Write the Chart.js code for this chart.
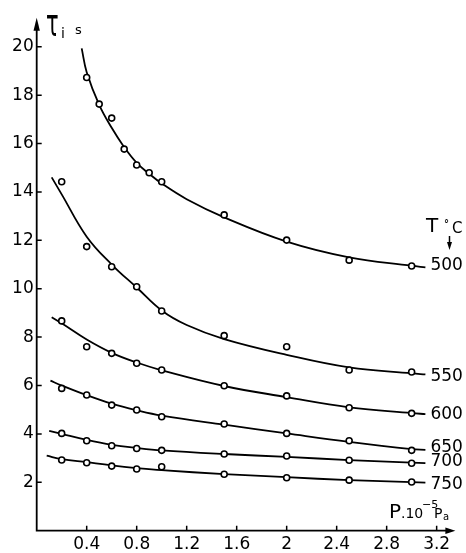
<!DOCTYPE html>
<html><head><meta charset="utf-8">
<script src="https://cdn.jsdelivr.net/npm/chart.js@4/dist/chart.umd.min.js"></script>
<style>html,body{margin:0;padding:0;background:#fff;}canvas{display:block;}</style>
</head><body>
<canvas id="c" width="466" height="553"></canvas>
<script>
// ---- data ----
const temperatures = ['500', '550', '600', '650', '700', '750'];
const xTicks = [0.4, 0.8, 1.2, 1.6, 2, 2.4, 2.8, 3.2];
const yTicks = [2, 4, 6, 8, 10, 12, 14, 16, 18, 20];

// measured points
const pressure500 = [0.4, 0.5, 0.6, 0.7, 0.8, 0.9, 1.0, 1.5, 2.0, 2.5, 3.0];
const tau500 = [18.73, 17.63, 17.05, 15.77, 15.11, 14.79, 14.42, 13.05, 12.01, 11.18, 10.94];
const pressureOther = [0.2, 0.4, 0.6, 0.8, 1.0, 1.5, 2.0, 2.5, 3.0];
const tau550 = [14.42, 11.74, 10.91, 10.08, 9.08, 8.06, 7.60, 6.64, 6.56];
const tau600 = [8.67, 7.60, 7.33, 6.92, 6.64, 5.99, 5.57, 5.08, 4.85];
const tau650 = [5.88, 5.61, 5.19, 4.99, 4.71, 4.41, 4.02, 3.72, 3.32];
const tau700 = [4.02, 3.72, 3.51, 3.40, 3.32, 3.17, 3.09, 2.91, 2.79];
const tau750 = [2.92, 2.81, 2.67, 2.55, 2.64, 2.33, 2.19, 2.09, 2.01];

// fitted curves
const fitP500 = [0.36, 0.4, 0.5, 0.6, 0.7, 0.8, 0.9, 1.0, 1.2, 1.5, 2.0, 2.5, 3.0, 3.11];
const fit500 = [19.93, 18.95, 17.6, 16.65, 15.85, 15.2, 14.75, 14.35, 13.7, 12.95, 11.95, 11.3, 10.95, 10.88];
const fitP550 = [0.12, 0.2, 0.4, 0.6, 0.8, 1.0, 1.2, 1.5, 2.0, 2.5, 3.0, 3.11];
const fit550 = [14.6, 13.9, 12.15, 11.0, 10.05, 9.1, 8.5, 7.92, 7.27, 6.75, 6.5, 6.46];
const fitP600 = [0.12, 0.2, 0.4, 0.6, 0.8, 1.0, 1.5, 2.0, 2.5, 3.0, 3.11];
const fit600 = [8.82, 8.57, 7.9, 7.35, 6.95, 6.63, 5.98, 5.52, 5.1, 4.86, 4.82];
const fitP650 = [0.11, 0.2, 0.4, 0.6, 0.8, 1.0, 1.5, 2.0, 2.5, 3.0, 3.11];
const fit650 = [6.2, 6.0, 5.6, 5.25, 4.98, 4.76, 4.38, 4.02, 3.67, 3.37, 3.34];
const fitP700 = [0.1, 0.2, 0.4, 0.6, 0.8, 1.0, 1.5, 2.0, 2.5, 3.0, 3.11];
const fit700 = [4.13, 4.0, 3.75, 3.55, 3.42, 3.32, 3.17, 3.05, 2.92, 2.81, 2.79];
const fitP750 = [0.08, 0.2, 0.4, 0.6, 0.8, 1.0, 1.5, 2.0, 2.5, 3.0, 3.11];
const fit750 = [3.1, 2.96, 2.83, 2.7, 2.59, 2.5, 2.34, 2.21, 2.09, 2.01, 1.99];

// curve-end label anchors (data units)
const labelX = 3.15;
const labelY = [10.95, 6.35, 4.78, 3.42, 2.84, 1.91];

// ---- build datasets ----
const pts = (xs, ys) => xs.map((x, i) => ({ x: x, y: ys[i] }));
const measured = [
  pts(pressure500, tau500), pts(pressureOther, tau550), pts(pressureOther, tau600),
  pts(pressureOther, tau650), pts(pressureOther, tau700), pts(pressureOther, tau750)
];
const fits = [
  pts(fitP500, fit500), pts(fitP550, fit550), pts(fitP600, fit600),
  pts(fitP650, fit650), pts(fitP700, fit700), pts(fitP750, fit750)
];
const datasets = [];
fits.forEach((d, i) => datasets.push({
  label: 'fit ' + temperatures[i], data: d, showLine: true, pointRadius: 0,
  borderColor: '#000', borderWidth: 1.8, tension: 0.4, order: 2
}));
measured.forEach((d, i) => datasets.push({
  label: temperatures[i] + ' °C', data: d, showLine: false, pointRadius: 3,
  pointBorderWidth: 1.6, pointBorderColor: '#000', pointBackgroundColor: '#fff', order: 1
}));

const FONT = '"DejaVu Sans", sans-serif';

const decor = {
  id: 'decor',
  afterDraw(chart) {
    const { ctx, chartArea: a, scales: { x, y } } = chart;
    ctx.save();
    ctx.strokeStyle = '#000';
    ctx.fillStyle = '#000';
    ctx.lineWidth = 1.8;
    // axes
    ctx.beginPath();
    ctx.moveTo(a.left, a.top + 6);
    ctx.lineTo(a.left, a.bottom);
    ctx.lineTo(a.right - 5, a.bottom);
    ctx.stroke();
    // y arrow
    ctx.beginPath();
    ctx.moveTo(a.left, a.top);
    ctx.lineTo(a.left - 3.2, a.top + 13);
    ctx.lineTo(a.left + 3.2, a.top + 13);
    ctx.closePath(); ctx.fill();
    // x arrow
    ctx.beginPath();
    ctx.moveTo(a.right, a.bottom);
    ctx.lineTo(a.right - 10, a.bottom - 3.2);
    ctx.lineTo(a.right - 10, a.bottom + 3.2);
    ctx.closePath(); ctx.fill();
    // inward ticks
    ctx.lineWidth = 1.5;
    ctx.beginPath();
    xTicks.forEach(v => { const p = x.getPixelForValue(v); ctx.moveTo(p, a.bottom); ctx.lineTo(p, a.bottom - 5); });
    yTicks.forEach(v => { const p = y.getPixelForValue(v); ctx.moveTo(a.left, p); ctx.lineTo(a.left + 5, p); });
    ctx.stroke();

    // curve labels
    ctx.textBaseline = 'middle';
    ctx.textAlign = 'left';
    ctx.font = '17px ' + FONT;
    temperatures.forEach((t, i) => {
      ctx.fillText(t, x.getPixelForValue(labelX), y.getPixelForValue(labelY[i]));
    });

    // "T °C" with arrow
    ctx.textBaseline = 'alphabetic';
    ctx.font = '20px ' + FONT;
    ctx.fillText('T', 426, 232);
    ctx.font = 'bold 10px ' + FONT;
    ctx.fillText('°', 444, 227);
    ctx.font = '15px ' + FONT;
    ctx.fillText('C', 452, 233);
    ctx.lineWidth = 1.5;
    ctx.beginPath(); ctx.moveTo(449.5, 236); ctx.lineTo(449.5, 244); ctx.stroke();
    ctx.beginPath(); ctx.moveTo(449.5, 250); ctx.lineTo(447, 242); ctx.lineTo(452, 242); ctx.closePath(); ctx.fill();

    // axis title x: P.10^-5 Pa
    ctx.font = '20px ' + FONT;
    ctx.fillText('P', 389, 518);
    ctx.font = '14px ' + FONT;
    ctx.fillText('.10', 401, 518);
    ctx.font = '11px ' + FONT;
    ctx.fillText('−5', 422, 508);
    ctx.font = '14px ' + FONT;
    ctx.fillText('P', 434, 518);
    ctx.font = '10px ' + FONT;
    ctx.fillText('a', 443, 520);

    // axis title y: tau_i s
    ctx.save();
    ctx.translate(46, 36);
    ctx.scale(1, 1.9);
    ctx.font = '21px ' + FONT;
    ctx.fillText('τ', 0, 0);
    ctx.restore();
    ctx.font = '14px ' + FONT;
    ctx.fillText('i', 61, 38);
    ctx.font = '13px ' + FONT;
    ctx.fillText('s', 75, 34);
    ctx.restore();
  }
};

new Chart(document.getElementById('c'), {
  type: 'scatter',
  data: { datasets },
  options: {
    responsive: false,
    animation: false,
    devicePixelRatio: 1,
    layout: { padding: { top: 17.7, right: 10.6, left: 0, bottom: 0 } },
    plugins: { legend: { display: false }, tooltip: { enabled: false } },
    scales: {
      x: {
        type: 'linear', min: 0, max: 3.35,
        grid: { display: false, drawTicks: false },
        border: { display: false },
        afterBuildTicks: s => { s.ticks = xTicks.map(v => ({ value: v })); },
        afterFit: s => { s.height = 22.3; },
        ticks: { color: '#000', font: { family: 'DejaVu Sans', size: 17 }, padding: 4, maxRotation: 0, autoSkip: false,
                 callback: v => String(v) }
      },
      y: {
        type: 'linear', min: 0, max: 21.2,
        grid: { display: false, drawTicks: false },
        border: { display: false },
        afterBuildTicks: s => { s.ticks = yTicks.map(v => ({ value: v })); },
        afterFit: s => { s.width = 36.7; },
        ticks: { color: '#000', font: { family: 'DejaVu Sans', size: 17 }, padding: 3, autoSkip: false,
                 callback: v => String(v) }
      }
    }
  },
  plugins: [decor]
});
</script>
</body></html>
